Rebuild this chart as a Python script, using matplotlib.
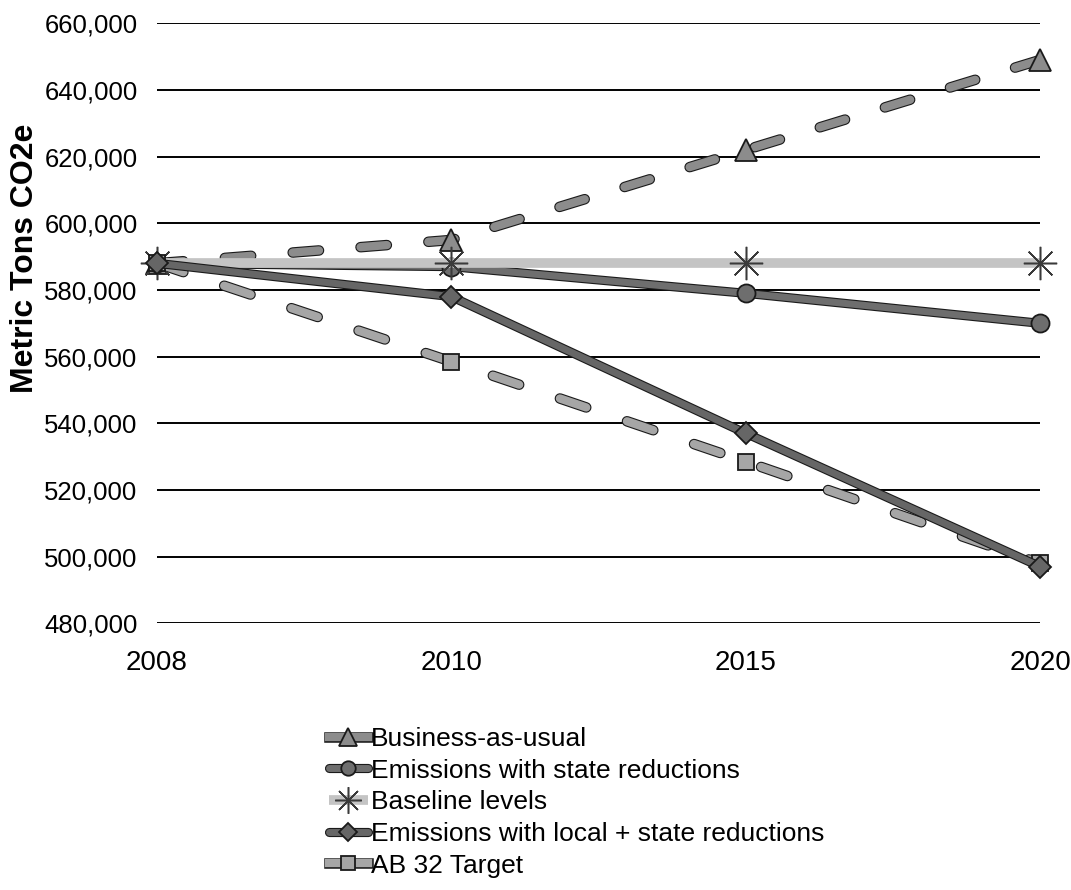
import matplotlib
matplotlib.use("Agg")
import matplotlib.pyplot as plt
import matplotlib.patheffects as pe
from matplotlib.lines import Line2D
from matplotlib.ticker import FuncFormatter

plt.rcParams["font.family"] = ["Liberation Sans", "DejaVu Sans"]
plt.rcParams["lines.scale_dashes"] = False

years = ["2008", "2010", "2015", "2020"]

business_as_usual = [588000, 595000, 622000, 649000]
state_reductions = [588000, 587000, 579000, 570000]
baseline_levels = [588000, 588000, 588000, 588000]
local_state_reductions = [588000, 578000, 537000, 497000]
ab32_target = [588000, 558500, 528500, 498000]

labels = [
    "Business-as-usual",
    "Emissions with state reductions",
    "Baseline levels",
    "Emissions with local + state reductions",
    "AB 32 Target",
]

y_ticks = list(range(480000, 660001, 20000))

# line look for each series: colour, width, dashes, marker, marker size, outlined
styles = [
    dict(color="#8c8c8c", lw=6.0, dashes=(19, 30), marker="^", ms=16, edge=True),
    dict(color="#6e6e6e", lw=5.0, dashes=None, marker="o", ms=13, edge=True),
    dict(color="#c4c4c4", lw=7.0, dashes=None, marker=(8, 2, 0), ms=24, edge=False),
    dict(color="#666666", lw=5.0, dashes=None, marker="D", ms=11, edge=True),
    dict(color="#a6a6a6", lw=6.0, dashes=(20, 31), marker="s", ms=12, edge=True),
]
series = [business_as_usual, state_reductions, baseline_levels,
          local_state_reductions, ab32_target]
zorders = [3, 4, 5, 6, 5]


def outlined(width):
    return [pe.Stroke(linewidth=width + 1.6, foreground="#1a1a1a"), pe.Normal()]


fig = plt.figure(figsize=(10.71, 8.9), dpi=100)
ax = fig.add_axes([0.1466, 0.2997, 0.8245, 0.6741])

x = list(range(len(years)))
handles = []
for values, st, z in zip(series, styles, zorders):
    line_kw = dict(color=st["color"], lw=st["lw"])
    if st["dashes"]:
        line_kw.update(dashes=st["dashes"], dash_capstyle="round")
    else:
        line_kw.update(solid_capstyle="round" if st["edge"] else "butt")
    if st["edge"]:
        line_kw["path_effects"] = outlined(st["lw"])
    ax.plot(x, values, zorder=z, **line_kw)

    if st["edge"]:
        mk_kw = dict(markerfacecolor=st["color"], markeredgecolor="#1a1a1a",
                     markeredgewidth=1.3)
    else:
        mk_kw = dict(markeredgecolor="#3a3a3a", markeredgewidth=1.1)
    ax.plot(x, values, ls="none", marker=st["marker"], markersize=st["ms"],
            zorder=z + 0.5, clip_on=False, **mk_kw)

    # legend key: outlined line with the marker laid on top
    h_kw = dict(line_kw)
    h_kw.pop("dashes", None)
    h_kw.pop("dash_capstyle", None)
    key_line = Line2D([], [], **h_kw)
    key_mark = Line2D([], [], ls="none", marker=st["marker"],
                      markersize=st["ms"] * 0.8, **mk_kw)
    handles.append((key_line, key_mark))

ax.set_xlim(0, len(years) - 1)
ax.set_ylim(480000, 660000)
ax.set_xticks(x)
ax.set_xticklabels(years)
ax.set_yticks(y_ticks)
ax.yaxis.set_major_formatter(FuncFormatter(lambda v, p: f"{int(v):,}"))
ax.tick_params(axis="y", length=0, labelsize=18.5, pad=14)
ax.tick_params(axis="x", length=0, labelsize=20, pad=19)

ax.grid(axis="y", color="black", lw=1.4)
ax.set_axisbelow(True)
for side in ax.spines.values():
    side.set_visible(False)

ax.set_ylabel("Metric Tons CO2e", fontsize=23, fontweight="bold")
ax.yaxis.set_label_coords(-0.132, 0.608)

fig.legend(handles=handles, labels=labels, loc="upper left",
           bbox_to_anchor=(0.297, 0.195), frameon=False, fontsize=19,
           handlelength=1.5, handletextpad=0.1, labelspacing=0.29,
           borderaxespad=0)

fig.savefig("out.png", dpi=100)
